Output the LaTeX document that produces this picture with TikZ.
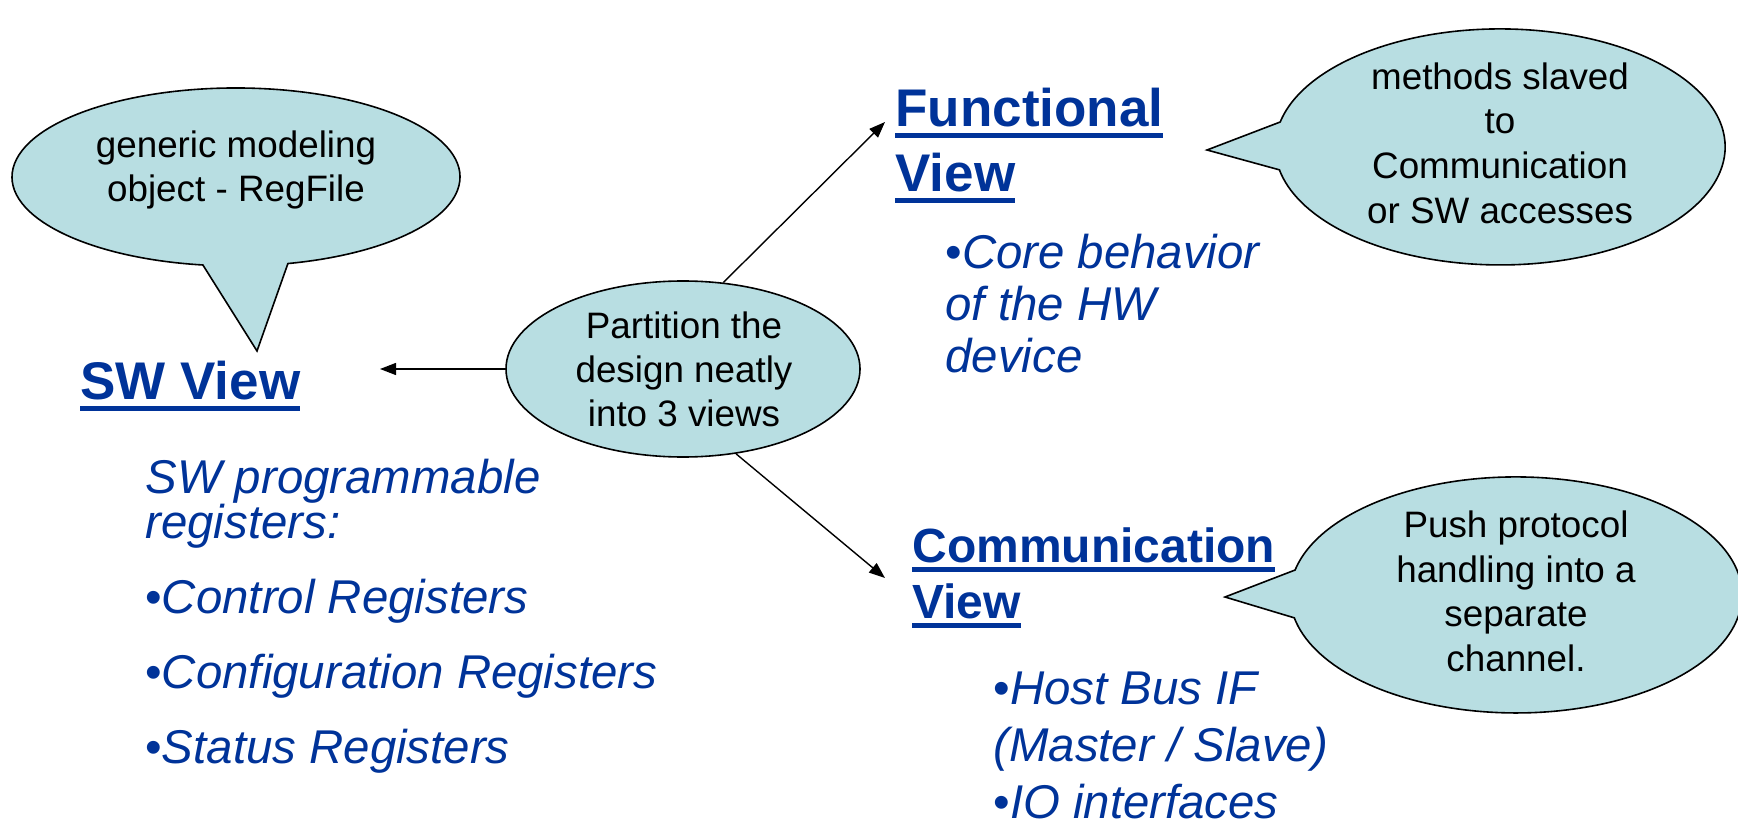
\documentclass[tikz,border=0pt]{standalone}
\usepackage{fontspec}
\setmainfont{Liberation Sans}
\usetikzlibrary{shapes.geometric,arrows.meta}
\definecolor{ublue}{RGB}{0,51,153}
\definecolor{cfill}{RGB}{184,222,226}
% thick underline the width of its text
\newcommand\ulhead[1]{\setbox0=\hbox{#1}\rlap{\vrule width\wd0 height -0.11em depth 0.21em}\box0}
% fixes the height of a first line so a block can be placed by its top
\newcommand\topstrut{\rule{0pt}{1em}}
\newcommand\bul{{\upshape\textbullet}}
\begin{document}
\begin{tikzpicture}[x=0.5pt,y=-0.5pt,
  head/.style={font=\fontsize{26.5}{32}\selectfont\bfseries, text=ublue, anchor=base west, inner sep=0},
  subhead/.style={head, font=\fontsize{24}{30}\selectfont\bfseries},
  body/.style={font=\fontsize{23.7}{22.5}\selectfont\itshape, text=ublue, inner sep=0, align=left},
  note/.style={font=\fontsize{18.4}{22.4}\selectfont, align=center, inner sep=0, anchor=north},
  callout/.style={draw=black, line width=0.8pt, fill=cfill, line join=miter},
  link/.style={draw=black, line width=0.7pt, -{Triangle[length=8pt,width=6pt]}}]
\useasboundingbox (0,0) rectangle (1738,823);

% speech bubbles
\path[callout] (202.9,265.0) arc[start angle=98.5, end angle=436.6, x radius=224, y radius=89] -- (257,351) -- cycle;
\path[callout] (1280.2,122.0) arc[start angle=192.2, end angle=528.8, x radius=225, y radius=118] -- (1207,150) -- cycle;
\path[callout] (1295.1,570.0) arc[start angle=192.2, end angle=528.8, x radius=226, y radius=118] -- (1225,597) -- cycle;

\node[note] (genobj) at (236,120) {\topstrut generic modeling\\object - RegFile};
\node[note] (slaved) at (1500,52) {\topstrut methods slaved\\to\\Communication\\or SW accesses};
\node[note] (push) at (1516,500) {\topstrut Push protocol\\handling into a\\separate\\channel.};

% central hub
\node[ellipse, draw=black, line width=0.8pt, fill=cfill, minimum width=177pt, minimum height=88pt, inner sep=0] (part) at (683,369) {};
\node[note, font=\fontsize{18.4}{22}\selectfont] (parttxt) at (684,301) {\topstrut Partition the\\design neatly\\into 3 views};

% view headings
\node[head] (swv) at (80,400) {\ulhead{SW View}};
\node[head] (fnl) at (895,127) {\ulhead{Functional}};
\node[head] (fnv) at (895,192) {\ulhead{View}};
\node[subhead] (cml) at (912,562) {\ulhead{Communication}};
\node[subhead] (cmv) at (912,618) {\ulhead{View}};

% descriptions
\node[body, anchor=north west] (swreg) at (145,446) {\topstrut SW programmable\\registers:};
\node[body, anchor=base west] (swctl) at (145,613) {\bul Control Registers};
\node[body, anchor=base west] (swcfg) at (145,688) {\bul Configuration Registers};
\node[body, anchor=base west] (swsta) at (145,763) {\bul Status Registers};
\node[body, anchor=north west, font=\fontsize{23.7}{26}\selectfont\itshape] (fnbody) at (945,221) {\topstrut\bul Core behavior\\of the HW\\device};
\node[body, anchor=north west, font=\fontsize{23.7}{28.5}\selectfont\itshape] (cmbody) at (993,657) {\topstrut\bul Host Bus IF\\(Master / Slave)\\\bul IO interfaces};

% connectors from the hub
\coordinate (swtip) at (380,369);
\coordinate (fntip) at (885,122);
\coordinate (cmtip) at (885,578);
\draw[link] (part.west) -- (swtip);
\draw[link] (part.65) -- (fntip);
\draw[link] (part.-58) -- (cmtip);
\end{tikzpicture}
\end{document}
